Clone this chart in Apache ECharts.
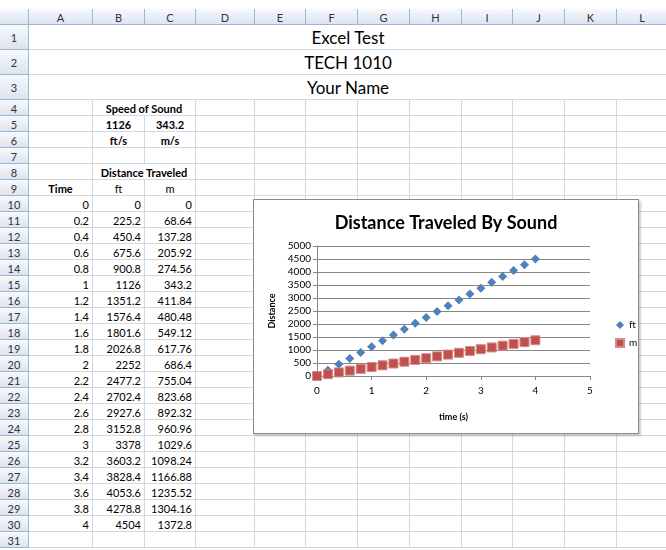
<!DOCTYPE html>
<html>
<head>
<meta charset="utf-8">
<script src="https://cdn.jsdelivr.net/npm/echarts@6/dist/echarts.min.js"></script>
<style>
body { margin: 0; background: #fff; font-family: Lato, sans-serif; }
#sheet { position: relative; width: 666px; height: 550px; overflow: hidden; }
.c {
  position: absolute; box-sizing: border-box;
  border-right: 1px solid #d0d7e5; border-bottom: 1px solid #d0d7e5;
  font-size: 11px; white-space: nowrap; color: #000; padding: 1px 3px 0 3px;
}
.h {
  background: linear-gradient(#f7f9fc, #dbe4f1);
  border-right-color: #9eb6ce; border-bottom-color: #9eb6ce;
  color: #333; text-align: center; padding: 1px 0 0 0;
}
#chart {
  position: absolute; left: 253px; top: 199px; width: 384px; height: 233px;
  border: 1px solid #8a8a8a; box-shadow: 2px 2px 2px rgba(0,0,0,0.2); background: #fff;
}
</style>
</head>
<body>
<div id="sheet"><div id="chart"></div></div>
<script>
// sheet contents
const titleLines = ['Excel Test', 'TECH 1010', 'Your Name'];
const speedLabel = 'Speed of Sound';
const speedValues = [1126, 343.2];
const speedUnits = ['ft/s', 'm/s'];
const distLabel = 'Distance Traveled';
const headers = ['Time', 'ft', 'm'];
const time = [0, 0.2, 0.4, 0.6, 0.8, 1, 1.2, 1.4, 1.6, 1.8, 2, 2.2, 2.4, 2.6, 2.8, 3, 3.2, 3.4, 3.6, 3.8, 4];
const feet = [0, 225.2, 450.4, 675.6, 900.8, 1126, 1351.2, 1576.4, 1801.6, 2026.8, 2252, 2477.2, 2702.4, 2927.6, 3152.8, 3378, 3603.2, 3828.4, 4053.6, 4278.8, 4504];
const meters = [0, 68.64, 137.28, 205.92, 274.56, 343.2, 411.84, 480.48, 549.12, 617.76, 686.4, 755.04, 823.68, 892.32, 960.96, 1029.6, 1098.24, 1166.88, 1235.52, 1304.16, 1372.8];
const colNames = ['A', 'B', 'C', 'D', 'E', 'F', 'G', 'H', 'I', 'J', 'K', 'L'];

// grid geometry
const colEdges = [0, 29, 93, 145, 196, 255, 306, 358, 410, 462, 513, 565, 617, 668];
const headTop = 9, headH = 16;
const rowTop = r => r <= 3 ? 25 + (r - 1) * 25 : 100 + (r - 4) * 16;
const rowH = r => r <= 3 ? 25 : 16;

const sheet = document.getElementById('sheet');
const chartEl = document.getElementById('chart');

function cell(top, h, c1, c2, text, style, cls) {
  const d = document.createElement('div');
  d.className = cls || 'c';
  d.style.left = colEdges[c1] + 'px';
  d.style.width = (colEdges[c2 + 1] - colEdges[c1]) + 'px';
  d.style.top = top + 'px';
  d.style.height = h + 'px';
  d.style.lineHeight = (h - 1) + 'px';
  if (style) Object.assign(d.style, style);
  if (text !== undefined && text !== null) d.textContent = text;
  sheet.insertBefore(d, chartEl);
}

// column headers
cell(headTop, headH, 0, 0, '', null, 'c h');
colNames.forEach((n, i) => cell(headTop, headH, i + 1, i + 1, n, null, 'c h'));

const bold = { fontWeight: 'bold', textAlign: 'center' };
const center = { textAlign: 'center' };
const right = { textAlign: 'right' };

for (let r = 1; r <= 31; r++) {
  const t = rowTop(r), h = rowH(r);
  cell(t, h, 0, 0, r, null, 'c h');
  if (r <= 3) {
    cell(t, h, 1, 12, titleLines[r - 1], { textAlign: 'center', fontSize: '17px' });
    continue;
  }
  if (r === 4 || r === 8) {
    cell(t, h, 1, 1, '');
    cell(t, h, 2, 3, r === 4 ? speedLabel : distLabel, bold);
  } else {
    let a = '', b = '', c = '', sa = null, sb = null, sc = null;
    if (r === 5) { b = speedValues[0]; c = speedValues[1]; sb = sc = bold; }
    if (r === 6) { b = speedUnits[0]; c = speedUnits[1]; sb = sc = bold; }
    if (r === 9) { a = headers[0]; b = headers[1]; c = headers[2]; sa = bold; sb = sc = center; }
    if (r >= 10 && r <= 30) {
      const i = r - 10;
      a = time[i]; b = feet[i]; c = meters[i]; sa = sb = sc = right;
    }
    cell(t, h, 1, 1, a, sa);
    cell(t, h, 2, 2, b, sb);
    cell(t, h, 3, 3, c, sc);
  }
  for (let k = 4; k <= 12; k++) cell(t, h, k, k, '');
}

// chart
const chart = echarts.init(chartEl);
const axisColor = '#868686';
chart.setOption({
  animation: false,
  textStyle: { fontFamily: 'Lato' },
  title: {
    text: 'Distance Traveled By Sound', left: 'center', top: 9,
    textStyle: { fontFamily: 'Lato', fontSize: 18, fontWeight: 'bold', color: '#000' }
  },
  grid: { left: 63, right: 48, top: 46, bottom: 57 },
  legend: {
    orient: 'vertical', left: 356, top: 115, itemWidth: 8, itemHeight: 8, itemGap: 8,
    textStyle: { fontSize: 10, color: '#000' },
    data: [{ name: 'ft', icon: 'diamond' }, { name: 'm', icon: 'rect' }]
  },
  xAxis: {
    type: 'value', min: 0, max: 5, interval: 1,
    name: 'time (s)', nameLocation: 'middle', nameGap: 37,
    nameTextStyle: { fontWeight: 'bold', fontSize: 9, color: '#000' },
    axisLine: { show: true, lineStyle: { color: axisColor } },
    axisTick: { show: true, length: 4, lineStyle: { color: axisColor } },
    axisLabel: { fontSize: 10, color: '#000', margin: 10 },
    splitLine: { show: false }
  },
  yAxis: {
    type: 'value', min: 0, max: 5000, interval: 500,
    name: 'Distance', nameLocation: 'middle', nameGap: 40, nameRotate: 90,
    nameTextStyle: { fontWeight: 'bold', fontSize: 9, color: '#000' },
    axisLine: { show: true, lineStyle: { color: axisColor } },
    axisTick: { show: true, length: 4, lineStyle: { color: axisColor } },
    axisLabel: { fontSize: 10, color: '#000', margin: 6, formatter: v => String(v) },
    splitLine: { lineStyle: { color: axisColor } }
  },
  series: [
    {
      name: 'ft', type: 'scatter', symbol: 'diamond', symbolSize: 9,
      itemStyle: { color: '#4f81bd', opacity: 1 },
      data: time.map((t, i) => [t, feet[i]])
    },
    {
      name: 'm', type: 'scatter', symbol: 'rect', symbolSize: 9,
      itemStyle: { color: '#c0504d', borderColor: '#d28b89', borderWidth: 1, opacity: 1 },
      data: time.map((t, i) => [t, meters[i]])
    }
  ]
});
</script>
</body>
</html>
